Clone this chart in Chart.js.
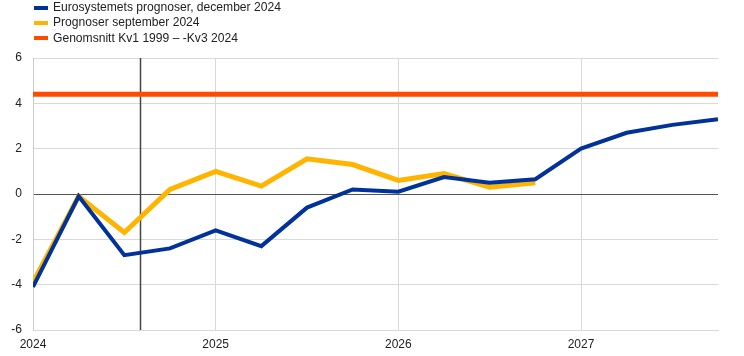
<!DOCTYPE html>
<html>
<head>
<meta charset="utf-8">
<script src="https://cdn.jsdelivr.net/npm/chart.js@4/dist/chart.umd.min.js"></script>
<style>
  html, body { margin: 0; padding: 0; background: #fff; }
  #wrap { position: relative; width: 744px; height: 356px; }
  #legend { position: absolute; left: 34px; top: 0px; font-family: "Liberation Sans", Arial, sans-serif; font-size: 12.1px; color: #222; }
  .item { height: 15.3px; line-height: 15.3px; white-space: nowrap; display: flex; align-items: center; }
  .sw { display: inline-block; width: 14px; height: 4px; margin-right: 5px; }
</style>
</head>
<body>
<div id="wrap">
  <canvas id="c" width="744" height="356"></canvas>
  <div id="legend"></div>
</div>
<script>
// Quarters: index 0 = 2024 Q1 ... 15 = 2027 Q4
const quarters = ["2024K1","2024K2","2024K3","2024K4","2025K1","2025K2","2025K3","2025K4",
                  "2026K1","2026K2","2026K3","2026K4","2027K1","2027K2","2027K3","2027K4"];
const decemberProjection = [-4.1, -0.1, -2.7, -2.4, -1.6, -2.3, -0.6, 0.2, 0.1, 0.75, 0.5, 0.65, 2.0, 2.7, 3.05, 3.3];
const septemberProjection = [-3.9, -0.1, -1.7, 0.2, 1.0, 0.35, 1.55, 1.3, 0.6, 0.9, 0.3, 0.5];
const averageValue = 4.4;
const yearLabels = ["2024", "2025", "2026", "2027"];
const yTicks = [-6, -4, -2, 0, 2, 4, 6];
const markerPosition = 2.35;
const seriesNames = ["Eurosystemets prognoser, december 2024", "Prognoser september 2024", "Genomsnitt Kv1 1999 – -Kv3 2024"];
const colors = ["#003299", "#FFB400", "#FF4B00"];

const toPts = arr => arr.map((v, i) => ({x: i, y: v}));

const markerPlugin = {
  id: 'marker',
  beforeDatasetsDraw(chart) {
    const {ctx, chartArea, scales} = chart;
    const x = Math.round(scales.x.getPixelForValue(markerPosition)) + 0.5;
    ctx.save();
    ctx.strokeStyle = '#444';
    ctx.lineWidth = 1.5;
    ctx.beginPath();
    ctx.moveTo(x, chartArea.top);
    ctx.lineTo(x, chartArea.bottom);
    ctx.stroke();
    ctx.restore();
  }
};

const chart = new Chart(document.getElementById('c'), {
  type: 'line',
  data: {
    datasets: [
      { label: seriesNames[2], data: toPts(quarters.map(() => averageValue)), borderColor: colors[2], borderWidth: 5, pointRadius: 0, order: 3 },
      { label: seriesNames[1], data: toPts(septemberProjection), borderColor: colors[1], borderWidth: 5, pointRadius: 0, order: 2 },
      { label: seriesNames[0], data: toPts(decemberProjection), borderColor: colors[0], borderWidth: 4, pointRadius: 0, order: 1 }
    ]
  },
  options: {
    responsive: false,
    animation: false,
    layout: { padding: { top: 58, right: 26, left: 0, bottom: 0 } },
    plugins: { legend: { display: false }, tooltip: { enabled: false } },
    scales: {
      x: {
        type: 'linear', min: 0, max: quarters.length - 1,
        afterBuildTicks: s => { s.ticks = yearLabels.map((_, i) => ({value: i * 4})); },
        afterFit: s => { s.height = 26; },
        ticks: {
          autoSkip: false, maxRotation: 0, padding: 7,
          color: '#222', font: { family: 'Liberation Sans', size: 12 },
          callback: (v) => yearLabels[Math.round(v / 4)]
        },
        grid: { color: ctx => ctx.index === 0 ? 'rgba(0,0,0,0)' : '#d9d9d9', drawTicks: false, lineWidth: 1 },
        border: { display: true, color: '#d9d9d9', width: 1 }
      },
      y: {
        min: -6, max: 6,
        afterBuildTicks: s => { s.ticks = yTicks.map(v => ({value: v})); },
        afterFit: s => { s.width = 33; },
        ticks: { color: '#222', font: { family: 'Liberation Sans', size: 12 }, padding: 11 },
        grid: { color: ctx => ctx.tick && ctx.tick.value === 0 ? '#555' : '#d9d9d9', drawTicks: false, lineWidth: 1 },
        border: { display: true, color: '#ccc', width: 1 }
      }
    }
  },
  plugins: [markerPlugin]
});

const leg = document.getElementById('legend');
seriesNames.forEach((name, i) => {
  const d = document.createElement('div');
  d.className = 'item';
  d.innerHTML = '<span class="sw" style="background:' + colors[i] + '"></span>';
  d.appendChild(document.createTextNode(name));
  leg.appendChild(d);
});
</script>
</body>
</html>
